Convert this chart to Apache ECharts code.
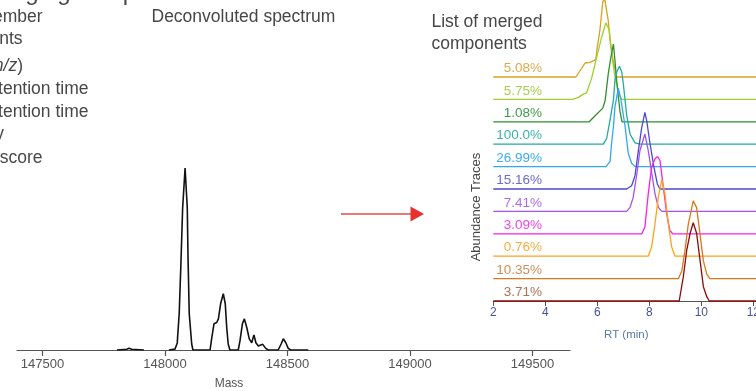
<!DOCTYPE html>
<html><head><meta charset="utf-8">
<script src="https://cdn.jsdelivr.net/npm/echarts@6/dist/echarts.min.js"></script>
<style>html,body{margin:0;padding:0;background:#fff;overflow:hidden}#c{width:756px;height:391px;}</style>
</head><body><div id="c"></div>
<script>
// ---------- Deconvoluted spectrum ----------
const massTicks = [147500, 148000, 148500, 149000, 149500];
const massValues = [147804,147809,147844,147853,147864,147914,147960,148016,148041,148050,148058,148065,148072,148082,148091,148094,148099,148109,148114,148184,148191,148200,148211,148218,148227,148238,148246,148252,148258,148265,148299,148306,148316,148324,148334,148344,148354,148363,148371,148381,148399,148411,148422,148462,148474,148483,148493,148503,148513,148585];
const massIntensity = [0,0,0.4,0.9,0.4,0,null,0,0.5,3.9,19.9,47.5,77.9,100,77.9,50.8,19.9,3.3,0,0,6.8,14.4,15.1,17.1,25.4,30.9,25.4,12.2,3.3,0,0,5.0,14.4,17.1,12.2,6.1,4.0,8.3,4.0,2.2,3.1,0.9,0,0,3.3,6.2,4.0,0.9,0,0];

// ---------- Abundance traces (RT in min, height in relative units) ----------
const traceLabels = ['5.08%','5.75%','1.08%','100.0%','26.99%','15.16%','7.41%','3.09%','0.76%','10.35%','3.71%'];
const trace1RT = [2,5.18,5.53,5.72,5.94,6.00,6.10,6.21,6.28,6.42,6.49,6.62,6.75,13];
const trace1H  = [0,0,14,14.7,17.4,30,46.7,75,79,56.7,36.7,15,0,0];
const trace2RT = [2,5.05,5.27,5.46,5.59,5.78,5.98,6.17,6.33,6.46,6.55,6.68,6.85,6.94,13];
const trace2H  = [0,0,2,5.3,6.6,21,42.6,62.6,76.6,69.3,46,22.6,4.3,0,0];
const trace3RT = [2,5.69,5.85,6.21,6.30,6.42,6.52,6.62,6.68,6.77,6.87,6.95,13];
const trace3H  = [0,0,4.3,13.7,21,47.7,64.3,77.7,61,34.3,11,0,0];
const trace4RT = [2,6.23,6.36,6.49,6.62,6.68,6.75,6.85,6.94,7.00,7.13,7.26,7.45,7.64,13];
const trace4H  = [0,0,5.7,24,44,64,72.3,78,72.3,60.7,29,10,1.3,0,0];
const trace5RT = [2,6.33,6.49,6.55,6.62,6.68,6.81,6.91,7.07,7.19,7.32,7.45,13];
const trace5H  = [0,0,5,23.4,40,60,78.4,66.7,40,13.4,3.4,0,0];
const trace6RT = [2,7.13,7.32,7.45,7.58,7.71,7.83,7.90,8.03,8.18,8.31,8.41,13];
const trace6H  = [0,0,3.3,13.3,38.3,61.6,76.6,68.3,45,21.6,5,0,0];
const trace7RT = [2,7.13,7.26,7.38,7.52,7.64,7.83,7.96,8.09,8.22,8.35,8.48,13];
const trace7H  = [0,0,4,14,37.4,60.7,77.4,60.7,39,17.4,4,0,0];
const trace8RT = [2,7.71,7.83,7.96,8.09,8.22,8.32,8.41,8.54,8.67,8.79,8.90,13];
const trace8H  = [0,0,6.6,40,66.6,75,77.3,73.3,46.6,20,3.3,0,0];
const trace9RT = [2,7.96,8.09,8.22,8.35,8.48,8.60,8.73,8.86,8.99,13];
const trace9H  = [0,0,9.3,32.7,59.3,76.7,62.7,32.7,9.3,0,0];
const trace10RT = [2,9.12,9.25,9.37,9.50,9.69,9.82,9.95,10.08,10.21,10.33,13];
const trace10H  = [0,0,7.7,27.7,54.4,77.7,71,44.4,17.7,4.4,0,0];
const trace11RT = [2,9.15,9.31,9.44,9.57,9.69,9.82,9.95,10.08,10.21,10.31,13];
const trace11H  = [0,0,24.3,51,67.7,78.3,67.7,41,14.3,4.3,0,0];

// ---------- Left panel text ----------
const leftLines = ['Number of member','components','Mass (m/z)','Start retention time','Stop retention time','Intensity','Quality score'];

// ---------- styles ----------
const lineColors  = ['#d9a21f','#9fcf2f','#2f8f2f','#22aaa2','#33a8f2','#4a4ad0','#a452f2','#f51ff0','#ffa214','#d87a1a','#8e0a0a'];
const labelColors = ['#dcab4e','#a8d04f','#3f9c48','#3db2ac','#3fabf2','#6a6ad0','#b06af2','#f044e2','#f7ad42','#cf8f58','#b07252'];
const TRACE_STEP = 22.4;

const traceRT = [trace1RT,trace2RT,trace3RT,trace4RT,trace5RT,trace6RT,trace7RT,trace8RT,trace9RT,trace10RT,trace11RT];
const traceH  = [trace1H,trace2H,trace3H,trace4H,trace5H,trace6H,trace7H,trace8H,trace9H,trace10H,trace11H];
const nT = traceLabels.length;
const offsetOf = i => (nT - 1 - i) * TRACE_STEP;

const chart = echarts.init(document.getElementById('c'), null, {renderer:'canvas'});
const FONT = '"Liberation Sans", Arial, Helvetica, sans-serif';
const TXT = '#474747';

const series = [{
  type:'line', xAxisIndex:0, yAxisIndex:0, showSymbol:false, connectNulls:false,
  data: massValues.map((m,i)=>[m, massIntensity[i]]),
  lineStyle:{color:'#111', width:1.6}, animation:false, silent:true
}];
traceRT.forEach((rts, i) => {
  series.push({
    type:'line', xAxisIndex:1, yAxisIndex:1, showSymbol:false, clip:false,
    data: rts.map((t,j)=>[t, offsetOf(i) + traceH[i][j]]),
    lineStyle:{color:lineColors[i], width:1.3}, animation:false, silent:true, z: 2 + i
  });
});

const option = {
  animation:false,
  grid:[
    {left:17, width:553, top:168, height:182, outerBoundsMode:'none', containLabel:false},
    {left:493.3, width:286, top:-19, height:320, outerBoundsMode:'none', containLabel:false}
  ],
  xAxis:[
    {type:'value', gridIndex:0, min:147396, max:149653,
     axisLine:{lineStyle:{color:'#555', width:1.2}},
     axisTick:{show:true, customValues:massTicks, length:6, lineStyle:{color:'#555', width:1.2}},
     axisLabel:{customValues:massTicks, formatter: v => String(v), color:'#555', fontFamily:FONT, fontSize:13, margin:8},
     splitLine:{show:false}},
    {type:'value', gridIndex:1, min:2, max:13, interval:2,
     axisLine:{lineStyle:{color:'#555', width:1.2}},
     axisTick:{show:true, length:5, lineStyle:{color:'#555'}},
     axisLabel:{color:'#4b4f9c', fontFamily:FONT, fontSize:12, margin:6, showMaxLabel:false, formatter: v => String(v)},
     splitLine:{show:false},
     name:'RT (min)', nameLocation:'middle', nameGap:28, nameTextStyle:{color:'#5b7aab', fontFamily:FONT, fontSize:11.5, padding:[0,0,0,-20]}}
  ],
  yAxis:[
    {type:'value', gridIndex:0, min:0, max:100, show:false},
    {type:'value', gridIndex:1, min:0, max:320, show:false}
  ],
  series: series
};
chart.setOption(option);

// annotations
const graphics = [];
const tStyle = (txt, x, y, size, color, align, va) => ({type:'text', x, y, style:{text:txt, fontFamily:FONT, fontSize:size, fill:color, align:align||'left', verticalAlign:va||'middle'}, silent:true});
graphics.push(tStyle('Deconvoluted spectrum', 151.5, 17, 17.5, TXT));
graphics.push(tStyle('List of merged', 431.5, 22, 17.5, TXT));
graphics.push(tStyle('components', 431.5, 44, 17.5, TXT));
graphics.push(tStyle('Merging components', -16, 5, 24, TXT, 'left', 'bottom'));
graphics.push(tStyle('Mass', 229, 384, 12, '#555', 'center'));
const leftRight = [42.5, 22.5, 23, 88.5, 88.5, 4, 42.5];
const leftY = [17.5, 39, 66.5, 89, 112, 134.5, 158];
leftLines.forEach((s,i)=>{
  if (i === 2) {
    graphics.push({type:'text', x:leftRight[i], y:leftY[i], silent:true,
      style:{text:'{n|Mass (}{i|m/z}{n|)}', align:'right', verticalAlign:'middle',
        rich:{n:{fontFamily:FONT, fontSize:17.5, fill:TXT}, i:{fontFamily:FONT, fontSize:17.5, fontStyle:'italic', fill:TXT}}}});
  } else graphics.push(tStyle(s, leftRight[i], leftY[i], 17.5, TXT, 'right'));
});
// y-axis title of traces
graphics.push({type:'text', x:476, y:207, rotation:Math.PI/2, silent:true,
  style:{text:'Abundance Traces', fontFamily:FONT, fontSize:13, fill:'#444', align:'center', verticalAlign:'middle'}});
// percentage labels
traceLabels.forEach((lab,i)=>{
  const p = chart.convertToPixel({gridIndex:1}, [2, offsetOf(i)]);
  graphics.push(tStyle(lab, 542, p[1]-8.5, 13.5, labelColors[i], 'right'));
});
// arrow
graphics.push({type:'line', shape:{x1:341, y1:214, x2:412, y2:214}, style:{stroke:'#e84a4a', lineWidth:1.6}, silent:true});
graphics.push({type:'polygon', shape:{points:[[410.5,206.5],[424,214],[410.5,221.5]]}, style:{fill:'#e8302f'}, silent:true});
chart.setOption({graphic: graphics});
</script>
</body></html>
